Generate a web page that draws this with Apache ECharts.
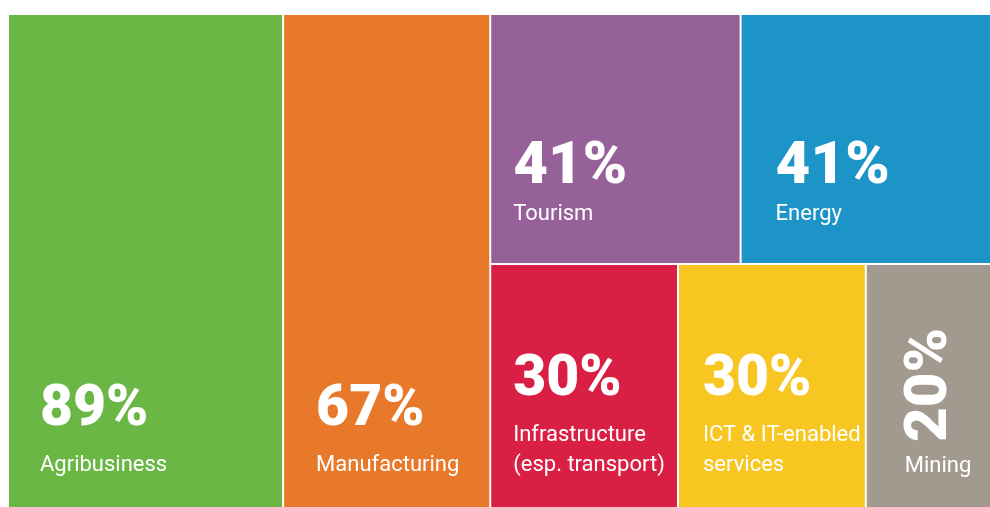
<!DOCTYPE html>
<html>
<head>
<meta charset="utf-8">
<title>Priority sectors</title>
<script src="https://cdn.jsdelivr.net/npm/echarts@6/dist/echarts.min.js"></script>
<style>
  html, body { margin: 0; padding: 0; background: #fff; }
  #chart { width: 990px; height: 507px; }
</style>
</head>
<body>
<div id="chart"></div>
<script>
  // data
  const sectors = ['Agribusiness', 'Manufacturing', 'Tourism', 'Energy',
    'Infrastructure\n(esp. transport)', 'ICT & IT-enabled\nservices', 'Mining'];
  const shares = [89, 67, 41, 41, 30, 30, 20];

  // how the sectors are grouped so the tiles fall like the original
  const columns = [0, 1];
  const upperBand = [2, 3];
  const lowerBand = [4, 5, 6];
  const rotatedIdx = 6;

  const colors = ['#6ab746', '#e8792b', '#966098', '#1c94c7', '#da1f45', '#f8c621', '#a29a8e'];
  const labelX = [31, 32, 22, 34, 22, 24, 38];

  const nameStyle = {fontFamily: 'Roboto', fontSize: 22, lineHeight: 30, color: '#fff'};
  function numStyle(size, lh) {
    return {fontFamily: 'Roboto', fontWeight: 900, fontSize: size, lineHeight: lh, color: '#fff'};
  }

  function mainLabel(i) {
    const top = upperBand.indexOf(i) >= 0;
    const lines = sectors[i].split('\n').length;
    const numLine = top ? 62 : 78;
    if (i === rotatedIdx) {
      return {
        show: true, padding: 0, overflow: 'none',
        position: [labelX[i], '100%'], offset: [0, -56],
        formatter: p => `{n|${p.name}}`,
        rich: {n: nameStyle}
      };
    }
    return {
      show: true, padding: 0, overflow: 'none',
      position: top ? [labelX[i], 122] : [labelX[i], '100%'],
      offset: top ? [0, 0] : [0, -(numLine + 30 * lines + 27)],
      formatter: p => `{v|${p.value}%}\n{n|${p.name}}`,
      rich: {v: numStyle(top ? 60 : 57, numLine), n: nameStyle}
    };
  }

  function overlayLabel(i) {
    if (i !== rotatedIdx) return {show: false};
    return {
      show: true, padding: 0, overflow: 'none', rotate: 90,
      position: [33, 177],
      formatter: p => `{v|${p.value}%}`,
      rich: {v: numStyle(60, 62)}
    };
  }

  function buildTree(overlay) {
    const leaf = i => ({
      name: sectors[i],
      value: shares[i],
      itemStyle: {color: overlay ? 'rgba(0,0,0,0)' : colors[i]},
      label: overlay ? overlayLabel(i) : mainLabel(i)
    });
    return columns.map(leaf).concat([{
      name: 'rest',
      children: [
        {name: 'upper', children: upperBand.map(leaf)},
        {name: 'lower', children: lowerBand.map(leaf)}
      ]
    }]);
  }

  function treemap(overlay) {
    return {
      type: 'treemap',
      left: 9, top: 15, right: 0, bottom: 0,
      roam: false,
      nodeClick: false,
      silent: overlay,
      sort: false,
      squareRatio: 1.07,
      breadcrumb: {show: false},
      itemStyle: {borderWidth: 0, gapWidth: 2, borderColor: overlay ? 'rgba(0,0,0,0)' : '#fff'},
      label: {show: true, padding: 0, color: '#fff'},
      data: buildTree(overlay)
    };
  }

  const chart = echarts.init(document.getElementById('chart'));
  chart.setOption({
    animation: false,
    series: [treemap(false), treemap(true)]
  });
</script>
</body>
</html>
